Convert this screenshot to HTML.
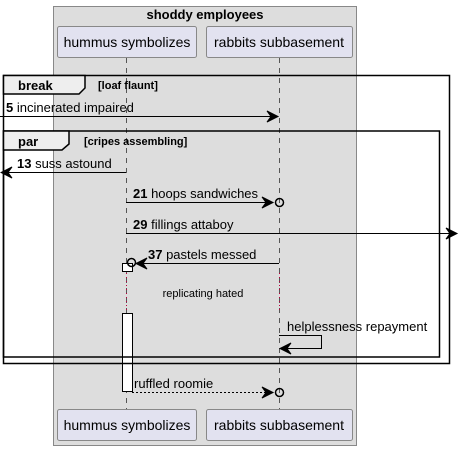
<!DOCTYPE html>
<html><head><style>html,body{margin:0;padding:0;background:#fff}svg{display:block}</style></head><body>
<svg width="459" height="451" xmlns="http://www.w3.org/2000/svg" font-family="Liberation Sans, sans-serif">
<rect x="53.5" y="6.5" width="303" height="439" fill="#dddddd" stroke="#888" stroke-width="1"/>
<text x="205" y="19" text-anchor="middle" font-size="13" font-weight="bold">shoddy employees</text>
<g stroke="#555" stroke-width="1" stroke-dasharray="5,5">
<line x1="126.5" y1="58" x2="126.5" y2="409"/>
<line x1="279.5" y1="58" x2="279.5" y2="409"/>
</g>
<g fill="#e2e2f0" stroke="#888">
<rect x="57.5" y="26.5" width="139" height="31" rx="2"/>
<rect x="206.5" y="26.5" width="146" height="31" rx="2"/>
<rect x="57.5" y="409.5" width="139" height="31" rx="2"/>
<rect x="206.5" y="409.5" width="146" height="31" rx="2"/>
</g>
<g font-size="14" text-anchor="middle" fill="#000">
<text x="127" y="47">hummus symbolizes</text>
<text x="279" y="47">rabbits subbasement</text>
<text x="127" y="430">hummus symbolizes</text>
<text x="279" y="430">rabbits subbasement</text>
</g>
<!-- activation -->
<rect x="122.5" y="263.5" width="10" height="8" fill="#fff" stroke="#000"/>
<line x1="126.5" y1="273" x2="126.5" y2="312" stroke="#c00040" stroke-dasharray="1,3"/>
<line x1="279.5" y1="273" x2="279.5" y2="312" stroke="#c00040" stroke-dasharray="1,3"/>
<rect x="122.5" y="313.5" width="10" height="78" fill="#fff" stroke="#000"/>
<text x="203" y="297" font-size="11" text-anchor="middle">replicating hated</text>
<!-- frames -->
<g fill="none" stroke="#000" stroke-width="1.5">
<rect x="3.5" y="75.5" width="446" height="288"/>
<rect x="3.5" y="131" width="436" height="226"/>
</g>
<path d="M3.5 75.5 H85 V88 L79 94 H3.5 Z" fill="#eee" stroke="#000" stroke-width="1.5"/>
<text x="18" y="90" font-size="13" font-weight="bold">break</text>
<text x="98" y="89" font-size="11" font-weight="bold">[loaf flaunt]</text>
<path d="M3.5 131 H69 V144 L62 150 H3.5 Z" fill="#eee" stroke="#000" stroke-width="1.5"/>
<text x="18" y="146" font-size="13" font-weight="bold">par</text>
<text x="84" y="145" font-size="11" font-weight="bold">[cripes assembling]</text>
<!-- messages -->
<g stroke="#000" stroke-width="1" fill="none">
<line x1="0" y1="116.5" x2="277" y2="116.5"/>
<path d="M267 111 L278 116.5 L267 122 L271 116.5 Z" fill="#000"/>
<line x1="126" y1="172.5" x2="2" y2="172.5"/>
<path d="M12 167 L1 172.5 L12 178 L8 172.5 Z" fill="#000"/>
<line x1="126" y1="202.5" x2="272" y2="202.5"/>
<path d="M262 197 L273 202.5 L262 208 L266 202.5 Z" fill="#000"/>
<circle cx="279.5" cy="202.5" r="4" stroke-width="1.5"/>
<line x1="126" y1="233.5" x2="456" y2="233.5"/>
<path d="M446 228 L457 233.5 L446 239 L450 233.5 Z" fill="#000"/>
<line x1="279" y1="263.5" x2="137" y2="263.5"/>
<path d="M147 258 L136 263.5 L147 269 L143 263.5 Z" fill="#000"/>
<circle cx="131.5" cy="262.5" r="4" stroke-width="1.5"/>
<path d="M279 335.5 H321.5 V348.5 H281"/>
<path d="M291 343 L280 348.5 L291 354 L287 348.5 Z" fill="#000"/>
<line x1="132" y1="392.5" x2="272" y2="392.5" stroke-dasharray="2,2"/>
<path d="M262 387 L273 392.5 L262 398 L266 392.5 Z" fill="#000"/>
<circle cx="279.5" cy="392.5" r="4" stroke-width="1.5"/>
</g>
<g font-size="13" fill="#000">
<text x="6" y="112"><tspan font-weight="bold">5</tspan> incinerated impaired</text>
<text x="17" y="168"><tspan font-weight="bold">13</tspan> suss astound</text>
<text x="133" y="198"><tspan font-weight="bold">21</tspan> hoops sandwiches</text>
<text x="133" y="229"><tspan font-weight="bold">29</tspan> fillings attaboy</text>
<text x="148" y="259"><tspan font-weight="bold">37</tspan> pastels messed</text>
<text x="287" y="331">helplessness repayment</text>
<text x="134" y="388">ruffled roomie</text>
</g>
</svg>
</body></html>
